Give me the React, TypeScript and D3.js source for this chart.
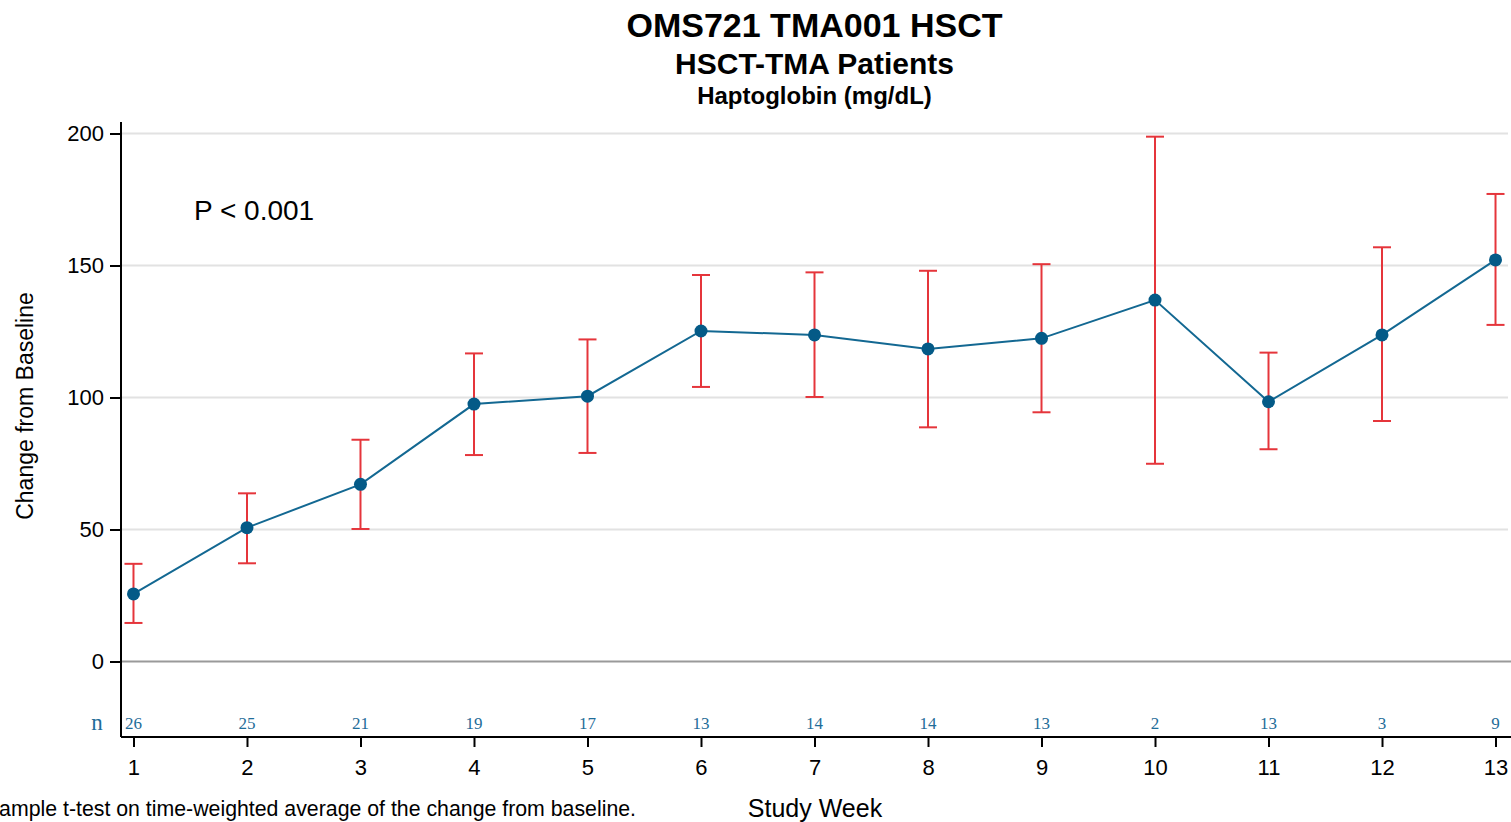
import React, { useEffect, useRef } from 'react';
import * as d3 from 'd3';

// study weeks and n per week
const weeks = [1, 2, 3, 4, 5, 6, 7, 8, 9, 10, 11, 12, 13];
const nCounts = [26, 25, 21, 19, 17, 13, 14, 14, 13, 2, 13, 3, 9];

// change from baseline (mean) and error bar limits
const means = [25.6, 50.7, 67.1, 97.5, 100.5, 125.2, 123.7, 118.4, 122.4, 136.9, 98.4, 123.7, 152.1];
const upper = [37.0, 63.7, 84.0, 116.7, 122.0, 146.4, 147.4, 148.0, 150.5, 198.8, 117.0, 156.9, 177.1];
const lower = [14.6, 37.2, 50.2, 78.2, 79.0, 104.0, 100.2, 88.7, 94.4, 74.9, 80.4, 91.1, 127.5];

const yTicks = [0, 50, 100, 150, 200];

const titles = ['OMS721 TMA001 HSCT', 'HSCT-TMA Patients', 'Haptoglobin (mg/dL)'];

const App: React.FC = () => {
    const svgRef = useRef<SVGSVGElement | null>(null);

    useEffect(() => {
        const width = 1511;
        const height = 822;
        const left = 121;
        const right = 1508;
        const axisY = 737;
        const font = 'Liberation Sans, Arial, sans-serif';

        const svg = d3.select(svgRef.current)
            .attr('width', width)
            .attr('height', height);
        svg.selectAll('*').remove();

        const x = d3.scaleLinear().domain([0.89, 13.11]).range([left, right]);
        const y = d3.scaleLinear().domain([0, 200]).range([661.5, 133.5]);

        const data = weeks.map((w, i) => ({ w, m: means[i], hi: upper[i], lo: lower[i], n: nCounts[i] }));

        // titles
        const titleSizes = [34, 30, 24];
        const titleY = [37, 74, 104];
        svg.selectAll('.title')
            .data(titles)
            .enter()
            .append('text')
            .attr('class', 'title')
            .attr('x', (left + right) / 2)
            .attr('y', (_, i) => titleY[i])
            .attr('text-anchor', 'middle')
            .style('font-family', font)
            .style('font-weight', 'bold')
            .style('font-size', (_, i) => `${titleSizes[i]}px`)
            .text(d => d);

        // grid lines
        svg.selectAll('.grid')
            .data(yTicks.filter(t => t !== 0))
            .enter()
            .append('line')
            .attr('x1', left)
            .attr('x2', right)
            .attr('y1', d => y(d))
            .attr('y2', d => y(d))
            .attr('stroke', '#e2e2e2')
            .attr('stroke-width', 2);

        // zero reference line
        svg.append('line')
            .attr('x1', left)
            .attr('x2', width)
            .attr('y1', y(0))
            .attr('y2', y(0))
            .attr('stroke', '#9a9a9a')
            .attr('stroke-width', 2);

        // y axis
        const yAxis = svg.append('g')
            .attr('transform', `translate(${left},0)`)
            .call(d3.axisLeft(y).tickValues(yTicks).tickSize(11).tickPadding(6).tickFormat(d3.format('d')));
        yAxis.select('.domain').remove();
        yAxis.selectAll('line').attr('stroke', '#000').attr('stroke-width', 2);
        yAxis.selectAll('text').style('font-family', font).style('font-size', '22px').attr('fill', '#000');
        svg.append('line')
            .attr('x1', left).attr('x2', left)
            .attr('y1', 122).attr('y2', axisY)
            .attr('stroke', '#000').attr('stroke-width', 2);

        // x axis
        const xAxis = svg.append('g')
            .attr('transform', `translate(0,${axisY})`)
            .call(d3.axisBottom(x).tickValues(weeks).tickSize(10).tickPadding(12).tickFormat(d3.format('d')));
        xAxis.select('.domain').remove();
        xAxis.selectAll('line').attr('stroke', '#000').attr('stroke-width', 2);
        xAxis.selectAll('text').style('font-family', font).style('font-size', '22px').attr('fill', '#000');
        svg.append('line')
            .attr('x1', left).attr('x2', width)
            .attr('y1', axisY).attr('y2', axisY)
            .attr('stroke', '#000').attr('stroke-width', 2);

        // n row
        svg.append('text')
            .attr('x', 97)
            .attr('y', 730)
            .attr('text-anchor', 'middle')
            .attr('fill', '#1f6d99')
            .style('font-family', 'Liberation Serif, Times New Roman, serif')
            .style('font-size', '23px')
            .text('n');
        svg.selectAll('.ncount')
            .data(data)
            .enter()
            .append('text')
            .attr('class', 'ncount')
            .attr('x', d => x(d.w))
            .attr('y', 729)
            .attr('text-anchor', 'middle')
            .attr('fill', '#1f6d99')
            .style('font-family', 'Liberation Serif, Times New Roman, serif')
            .style('font-size', '17px')
            .text(d => d.n);

        // error bars
        const capHalf = 9;
        const bars = svg.append('g')
            .attr('stroke', '#e5353b')
            .attr('stroke-width', 2);
        bars.selectAll('.vbar')
            .data(data)
            .enter()
            .append('line')
            .attr('x1', d => x(d.w)).attr('x2', d => x(d.w))
            .attr('y1', d => y(d.hi)).attr('y2', d => y(d.lo));
        bars.selectAll('.capHi')
            .data(data)
            .enter()
            .append('line')
            .attr('x1', d => x(d.w) - capHalf).attr('x2', d => x(d.w) + capHalf)
            .attr('y1', d => y(d.hi)).attr('y2', d => y(d.hi));
        bars.selectAll('.capLo')
            .data(data)
            .enter()
            .append('line')
            .attr('x1', d => x(d.w) - capHalf).attr('x2', d => x(d.w) + capHalf)
            .attr('y1', d => y(d.lo)).attr('y2', d => y(d.lo));

        // mean line and markers
        const line = d3.line<{ w: number; m: number }>()
            .x(d => x(d.w))
            .y(d => y(d.m));
        svg.append('path')
            .datum(data)
            .attr('d', line)
            .attr('fill', 'none')
            .attr('stroke', '#136892')
            .attr('stroke-width', 2);
        svg.selectAll('.dot')
            .data(data)
            .enter()
            .append('circle')
            .attr('cx', d => x(d.w))
            .attr('cy', d => y(d.m))
            .attr('r', 6.5)
            .attr('fill', '#045a87');

        // annotations
        svg.append('text')
            .attr('x', 194)
            .attr('y', 220)
            .style('font-family', font)
            .style('font-size', '28px')
            .text('P < 0.001');

        svg.append('text')
            .attr('transform', `translate(33,406) rotate(-90)`)
            .attr('text-anchor', 'middle')
            .style('font-family', font)
            .style('font-size', '23px')
            .text('Change from Baseline');

        svg.append('text')
            .attr('x', 815)
            .attr('y', 817)
            .attr('text-anchor', 'middle')
            .style('font-family', font)
            .style('font-size', '25px')
            .text('Study Week');

        // footnote: only the visible part, as the reference shows it
        svg.append('text')
            .attr('x', 636)
            .attr('y', 816)
            .attr('text-anchor', 'end')
            .style('font-family', font)
            .style('font-size', '21.3px')
            .text('ample t-test on time-weighted average of the change from baseline.');
    }, []);

    return (
        <svg
            ref={svgRef}
            style={{ position: 'absolute', left: 0, top: 0, display: 'block', background: '#fff' }}
        ></svg>
    );
};

export default App;
